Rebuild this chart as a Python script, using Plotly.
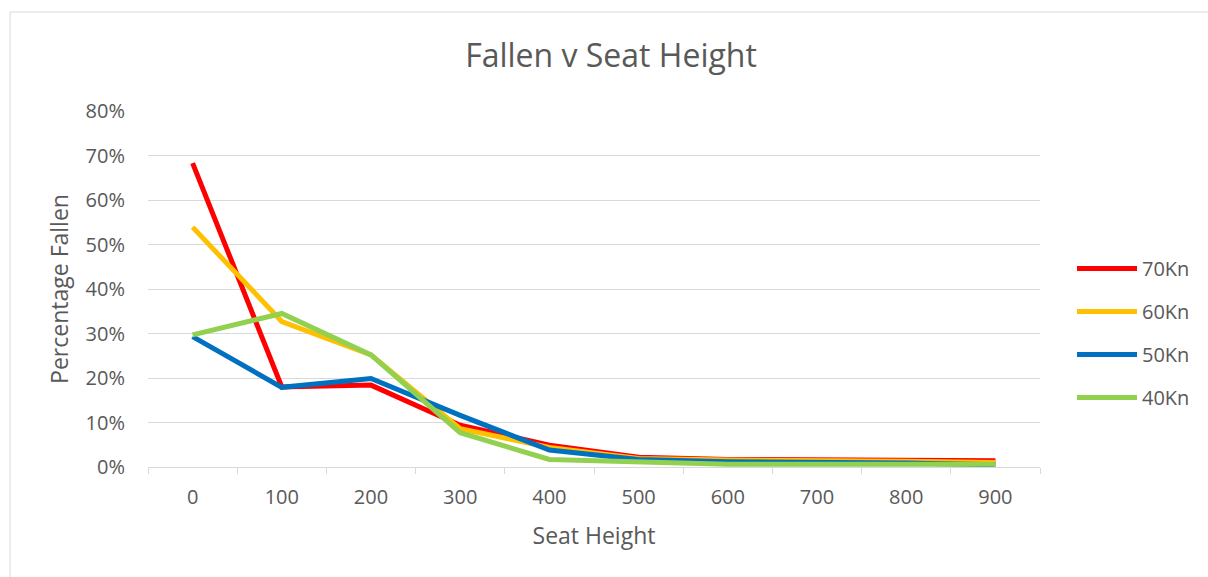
import plotly.graph_objects as go

# Seat heights (category axis) and share of riders fallen per load
seat_height = ["0", "100", "200", "300", "400", "500", "600", "700", "800", "900"]
fallen_70kn = [0.683, 0.180, 0.184, 0.094, 0.049, 0.022, 0.017, 0.016, 0.016, 0.014]
fallen_60kn = [0.539, 0.327, 0.252, 0.086, 0.044, 0.019, 0.016, 0.015, 0.013, 0.010]
fallen_50kn = [0.293, 0.179, 0.199, 0.116, 0.038, 0.017, 0.012, 0.011, 0.009, 0.005]
fallen_40kn = [0.297, 0.345, 0.252, 0.077, 0.017, 0.012, 0.006, 0.006, 0.007, 0.006]

series = [
    ("70Kn", fallen_70kn, "#FF0000"),
    ("60Kn", fallen_60kn, "#FFC000"),
    ("50Kn", fallen_50kn, "#0070C0"),
    ("40Kn", fallen_40kn, "#92D050"),
]

FONT = "Open Sans"
GREY = "#595959"
GRID = "#d9d9d9"

fig = go.Figure()
for name, vals, color in series:
    fig.add_trace(go.Scatter(
        x=seat_height, y=vals, name=name, mode="lines",
        legendgroup=name,
        line=dict(color=color, width=5),
    ))

W, H = 1208, 577
L, R, T, B = 148, 1040, 111, 467
pw, ph = R - L, B - T

fig.update_layout(
    width=W, height=H,
    margin=dict(l=L, r=W - R, t=T, b=H - B),
    paper_bgcolor="white", plot_bgcolor="white",
    font=dict(family=FONT, color=GREY, size=20),
    title=dict(text="Fallen v Seat Height", x=611 / W, xanchor="center",
               y=1 - 56 / H, yanchor="middle",
               font=dict(family=FONT, size=32, color=GREY)),
    showlegend=True,
    legend=dict(x=(1072 - L) / pw, xanchor="left", y=(B - 333) / ph, yanchor="middle",
                tracegroupgap=14, traceorder="grouped", itemwidth=60,
                font=dict(family=FONT, size=20, color=GREY),
                bgcolor="rgba(0,0,0,0)"),
    xaxis=dict(
        type="category", range=[-0.5, len(seat_height) - 0.5],
        tickson="boundaries", ticks="outside", ticklen=6,
        tickcolor=GRID, showgrid=False, showline=True, linecolor=GRID,
        linewidth=1, zeroline=False, ticklabelstandoff=12,
        title=dict(text="Seat Height", standoff=18, font=dict(size=23, color=GREY)),
        tickfont=dict(size=20, color=GREY),
    ),
    yaxis=dict(
        range=[0, 0.8], dtick=0.1, tickformat=".0%", showgrid=True,
        gridcolor=GRID, gridwidth=1, zeroline=False, showline=False,
        ticks="", ticklabelstandoff=22,
        title=dict(text="Percentage Fallen", standoff=10, font=dict(size=23, color=GREY)),
        tickfont=dict(size=20, color=GREY),
    ),
)

# Light frame around the chart area
fig.add_shape(type="rect", xref="paper", yref="paper",
              x0=(10 - L) / pw, x1=(W + 5 - L) / pw,
              y0=(B - (H + 5)) / ph, y1=(B - 12) / ph,
              line=dict(color=GRID, width=1), fillcolor="rgba(0,0,0,0)", layer="below")

fig.write_html("out.html")
